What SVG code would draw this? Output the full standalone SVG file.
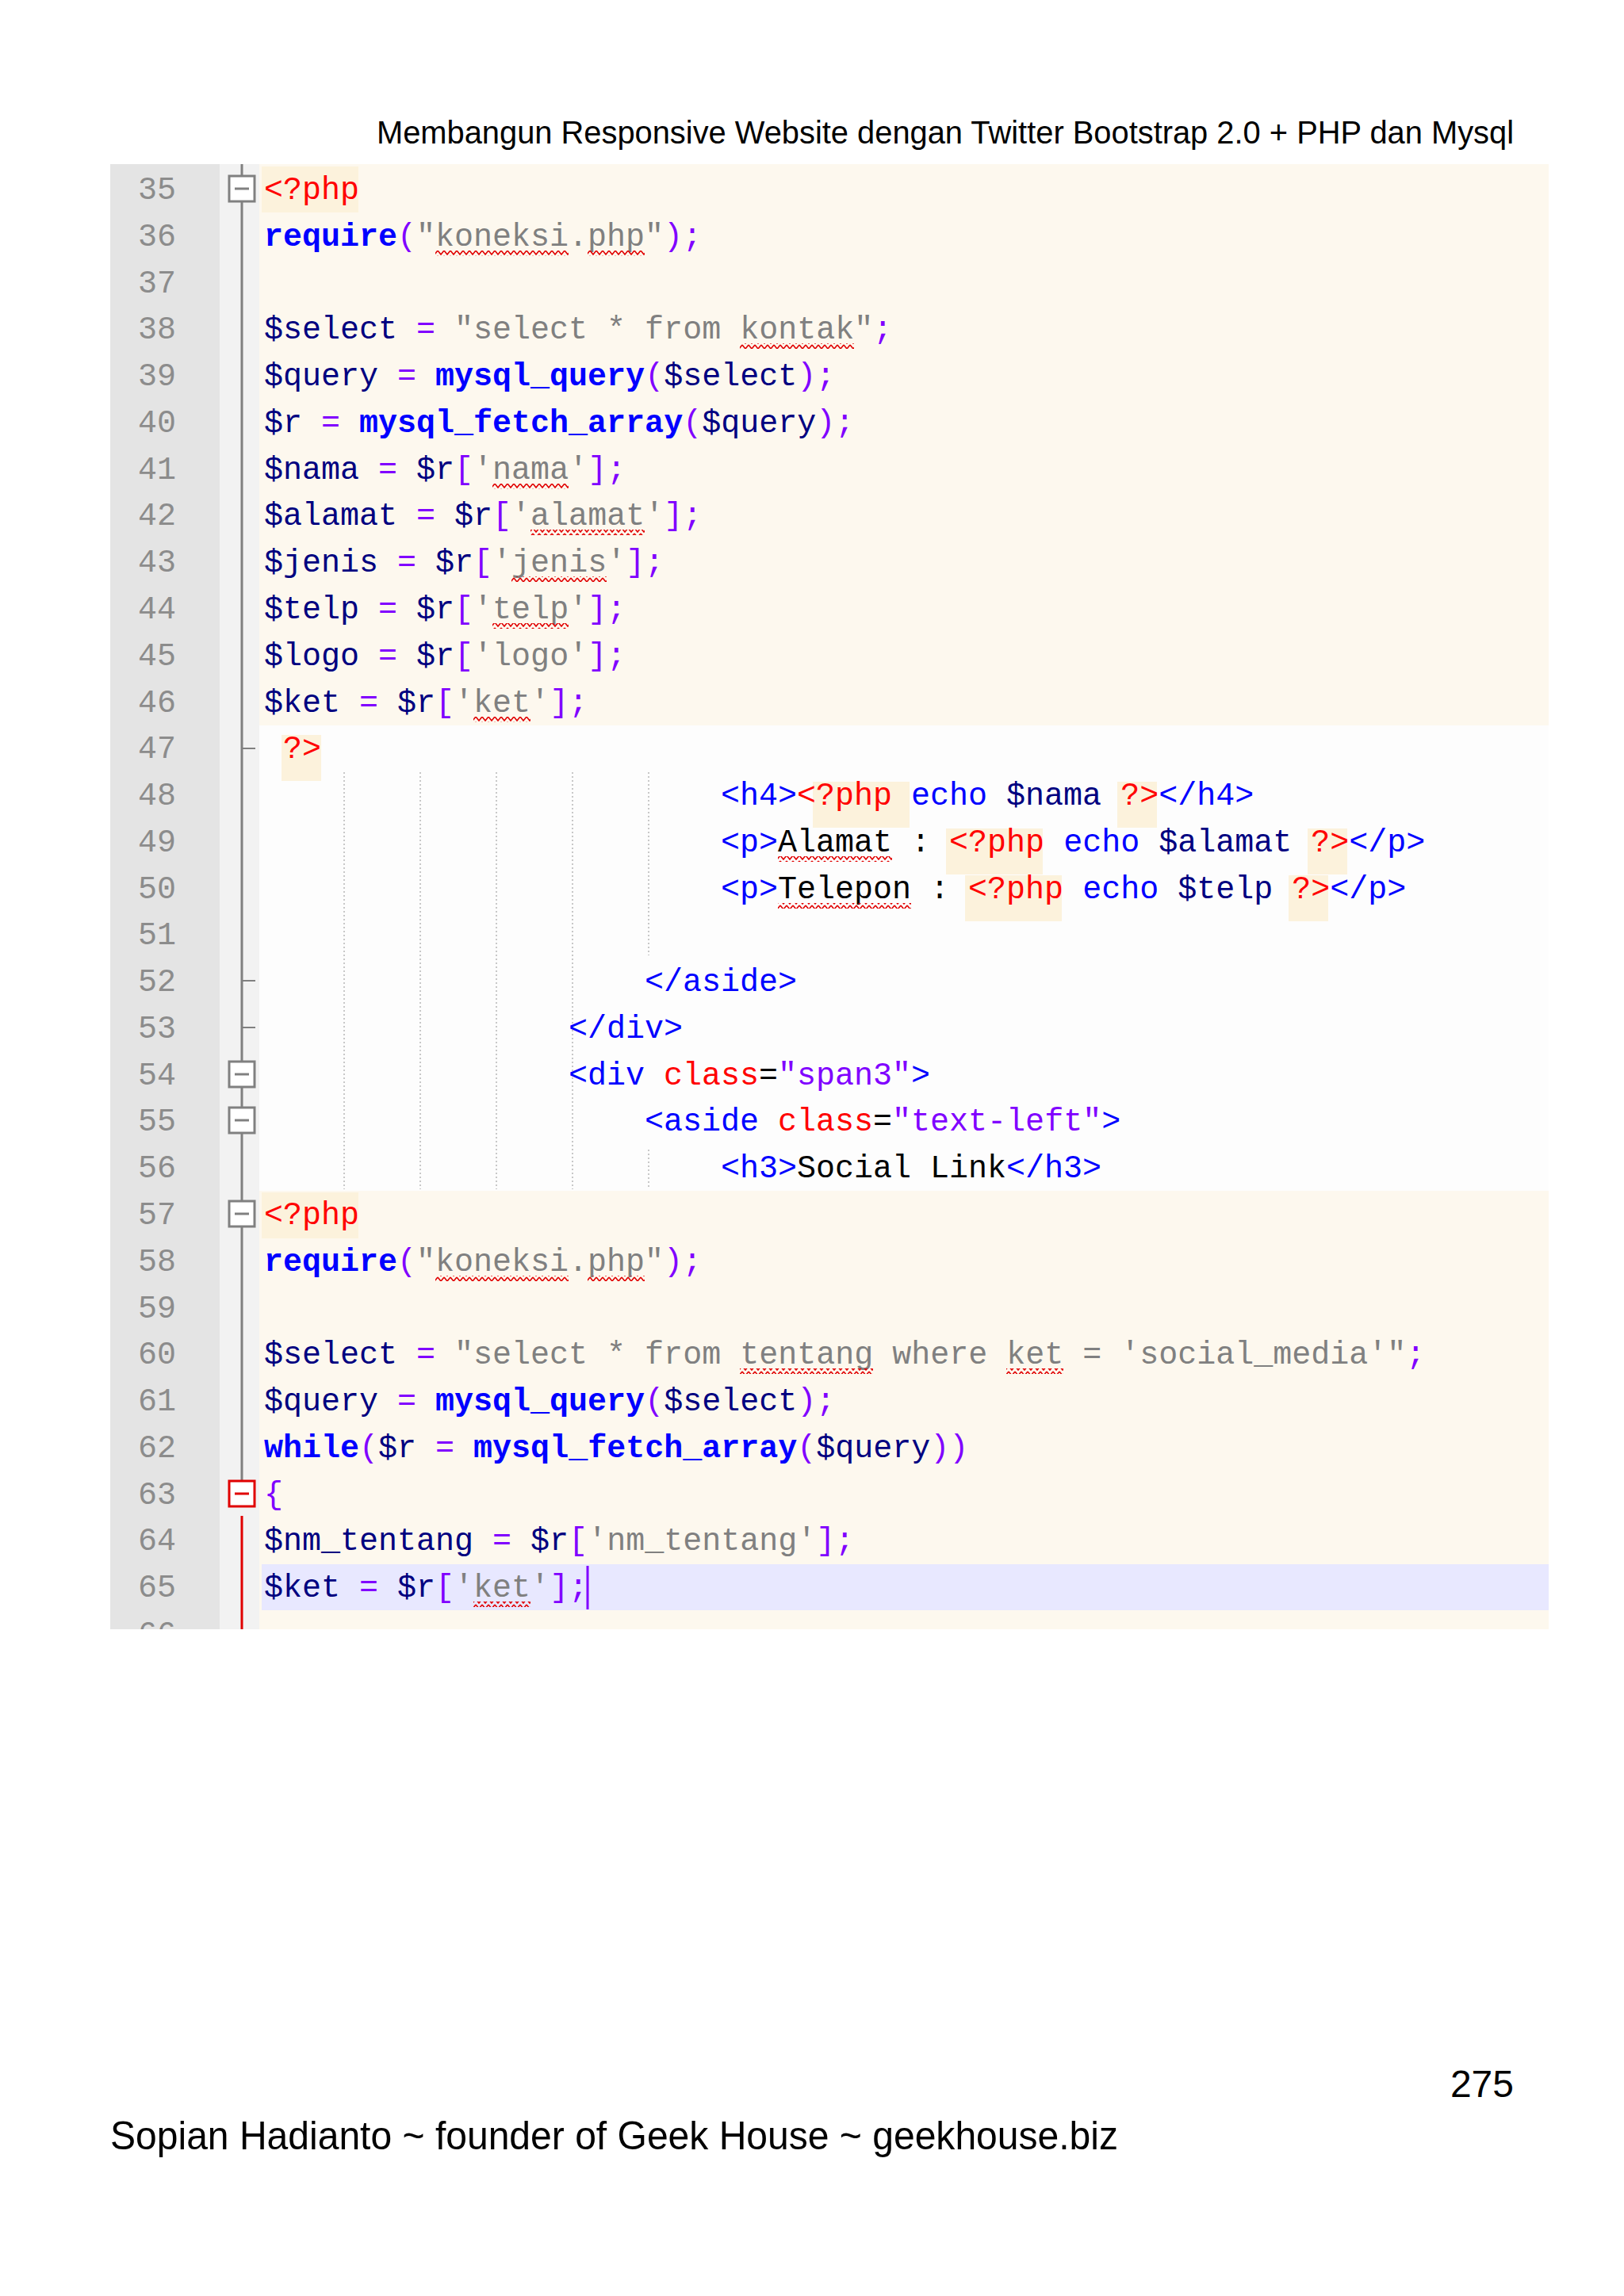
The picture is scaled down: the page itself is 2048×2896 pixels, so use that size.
<svg xmlns="http://www.w3.org/2000/svg" width="2048" height="2896" viewBox="0 0 2048 2896">
<style>
.code{font-family:"Liberation Mono","DejaVu Sans Mono",monospace;font-size:40px;white-space:pre}
.ln{font-family:"Liberation Mono","DejaVu Sans Mono",monospace;font-size:40px;fill:#8c8c8c;text-anchor:end}
.t{fill:#ff0000}.k{fill:#0000ff;font-weight:bold}.v{fill:#000080}.o{fill:#8000ff}.s{fill:#808080}
.h{fill:#0000ff}.a{fill:#ff0000}.av{fill:#8000ff}.b{fill:#000000}
.fold{fill:#ffffff;stroke:#808080;stroke-width:3}
.guide{stroke:#c8c8c8;stroke-width:2;stroke-dasharray:2 3}
.sq{fill:url(#zig)}
.page{font-family:"Liberation Sans","Open Sans",sans-serif;fill:#000}
</style>
<defs>
<pattern id="zig" width="8" height="7" patternUnits="userSpaceOnUse">
<path d="M0,1 L4,6 L8,1" fill="none" stroke="#e00000" stroke-width="1.6"/>
</pattern>
<clipPath id="panel"><rect x="139" y="207" width="1814" height="1848"/></clipPath>
</defs>
<rect width="2048" height="2896" fill="#ffffff"/>
<text class="page" x="1909" y="181" font-size="40" text-anchor="end" textLength="1434" lengthAdjust="spacingAndGlyphs">Membangun Responsive Website dengan Twitter Bootstrap 2.0 + PHP dan Mysql</text>

<g id="editor" clip-path="url(#panel)">
<rect x="139" y="207" width="1814" height="1848" fill="#fdfdfd"/>
<rect x="139" y="207" width="138" height="1848" fill="#e4e4e4"/>
<rect x="277" y="207" width="50" height="1848" fill="#f2f2f2"/>
<rect x="327" y="207" width="1626" height="708" fill="#fdf8ee"/>
<rect x="327" y="1502" width="1626" height="553" fill="#fdf8ee"/>
<rect x="330" y="1973" width="1623" height="58" fill="#e8e8ff"/>
<rect x="330" y="210" width="122" height="58" fill="#fcf2dc"/>
<rect x="355" y="927" width="50" height="58" fill="#fcf2dc"/>
<rect x="330" y="1504" width="122" height="58" fill="#fcf2dc"/>
<rect x="1025" y="986" width="122" height="58" fill="#fcf2dc"/>
<rect x="1409" y="986" width="50" height="58" fill="#fcf2dc"/>
<rect x="1193" y="1045" width="122" height="58" fill="#fcf2dc"/>
<rect x="1649" y="1045" width="50" height="58" fill="#fcf2dc"/>
<rect x="1217" y="1104" width="122" height="58" fill="#fcf2dc"/>
<rect x="1625" y="1104" width="50" height="58" fill="#fcf2dc"/>
</g>

<g id="line-numbers">
<text class="ln" x="222" y="251">35</text><text class="ln" x="222" y="310">36</text><text class="ln" x="222" y="369">37</text><text class="ln" x="222" y="427">38</text><text class="ln" x="222" y="486">39</text><text class="ln" x="222" y="545">40</text><text class="ln" x="222" y="604">41</text><text class="ln" x="222" y="662">42</text><text class="ln" x="222" y="721">43</text><text class="ln" x="222" y="780">44</text><text class="ln" x="222" y="839">45</text><text class="ln" x="222" y="898">46</text><text class="ln" x="222" y="956">47</text><text class="ln" x="222" y="1015">48</text><text class="ln" x="222" y="1074">49</text><text class="ln" x="222" y="1133">50</text><text class="ln" x="222" y="1191">51</text><text class="ln" x="222" y="1250">52</text><text class="ln" x="222" y="1309">53</text><text class="ln" x="222" y="1368">54</text><text class="ln" x="222" y="1426">55</text><text class="ln" x="222" y="1485">56</text><text class="ln" x="222" y="1544">57</text><text class="ln" x="222" y="1603">58</text><text class="ln" x="222" y="1662">59</text><text class="ln" x="222" y="1720">60</text><text class="ln" x="222" y="1779">61</text><text class="ln" x="222" y="1838">62</text><text class="ln" x="222" y="1897">63</text><text class="ln" x="222" y="1955">64</text><text class="ln" x="222" y="2014">65</text>
<g clip-path="url(#panel)"><text class="ln" x="222" y="2073">66</text></g>
</g>

<g id="folding">
<line x1="305" y1="207" x2="305" y2="1882" stroke="#808080" stroke-width="3"/>
<line x1="305" y1="1912" x2="305" y2="2055" stroke="#e00000" stroke-width="3"/>
<line x1="305" y1="944" x2="322" y2="944" stroke="#808080" stroke-width="2"/>
<line x1="305" y1="1237" x2="322" y2="1237" stroke="#808080" stroke-width="2"/>
<line x1="305" y1="1296" x2="322" y2="1296" stroke="#808080" stroke-width="2"/>
<g id="fold35"><rect class="fold" x="289" y="222" width="32" height="32"/><line x1="296" y1="238" x2="314" y2="238" stroke="#808080" stroke-width="3"/></g>
<g id="fold54"><rect class="fold" x="289" y="1339" width="32" height="32"/><line x1="296" y1="1355" x2="314" y2="1355" stroke="#808080" stroke-width="3"/></g>
<g id="fold55"><rect class="fold" x="289" y="1397" width="32" height="32"/><line x1="296" y1="1413" x2="314" y2="1413" stroke="#808080" stroke-width="3"/></g>
<g id="fold57"><rect class="fold" x="289" y="1515" width="32" height="32"/><line x1="296" y1="1531" x2="314" y2="1531" stroke="#808080" stroke-width="3"/></g>
<g id="fold63"><rect x="289" y="1868" width="32" height="32" fill="#fff" stroke="#e00000" stroke-width="3"/><line x1="296" y1="1884" x2="314" y2="1884" stroke="#e00000" stroke-width="3"/></g>
</g>

<g id="guides">
<line class="guide" x1="434" y1="974" x2="434" y2="1500"/>
<line class="guide" x1="530" y1="974" x2="530" y2="1500"/>
<line class="guide" x1="626" y1="974" x2="626" y2="1500"/>
<line class="guide" x1="722" y1="974" x2="722" y2="1500"/>
<line class="guide" x1="818" y1="974" x2="818" y2="1205"/>
<line class="guide" x1="818" y1="1450" x2="818" y2="1500"/>
</g>

<g id="code">
<text class="code" x="333" y="251" xml:space="preserve"><tspan class="t">&lt;?php</tspan></text>
<text class="code" x="333" y="310" xml:space="preserve"><tspan class="k">require</tspan><tspan class="o">(</tspan><tspan class="s">"koneksi.php"</tspan><tspan class="o">);</tspan></text>
<text class="code" x="333" y="427" xml:space="preserve"><tspan class="v">$select</tspan> <tspan class="o">=</tspan> <tspan class="s">"select * from kontak"</tspan><tspan class="o">;</tspan></text>
<text class="code" x="333" y="486" xml:space="preserve"><tspan class="v">$query</tspan> <tspan class="o">=</tspan> <tspan class="k">mysql_query</tspan><tspan class="o">(</tspan><tspan class="v">$select</tspan><tspan class="o">);</tspan></text>
<text class="code" x="333" y="545" xml:space="preserve"><tspan class="v">$r</tspan> <tspan class="o">=</tspan> <tspan class="k">mysql_fetch_array</tspan><tspan class="o">(</tspan><tspan class="v">$query</tspan><tspan class="o">);</tspan></text>
<text class="code" x="333" y="604" xml:space="preserve"><tspan class="v">$nama</tspan> <tspan class="o">=</tspan> <tspan class="v">$r</tspan><tspan class="o">[</tspan><tspan class="s">'nama'</tspan><tspan class="o">];</tspan></text>
<text class="code" x="333" y="662" xml:space="preserve"><tspan class="v">$alamat</tspan> <tspan class="o">=</tspan> <tspan class="v">$r</tspan><tspan class="o">[</tspan><tspan class="s">'alamat'</tspan><tspan class="o">];</tspan></text>
<text class="code" x="333" y="721" xml:space="preserve"><tspan class="v">$jenis</tspan> <tspan class="o">=</tspan> <tspan class="v">$r</tspan><tspan class="o">[</tspan><tspan class="s">'jenis'</tspan><tspan class="o">];</tspan></text>
<text class="code" x="333" y="780" xml:space="preserve"><tspan class="v">$telp</tspan> <tspan class="o">=</tspan> <tspan class="v">$r</tspan><tspan class="o">[</tspan><tspan class="s">'telp'</tspan><tspan class="o">];</tspan></text>
<text class="code" x="333" y="839" xml:space="preserve"><tspan class="v">$logo</tspan> <tspan class="o">=</tspan> <tspan class="v">$r</tspan><tspan class="o">[</tspan><tspan class="s">'logo'</tspan><tspan class="o">];</tspan></text>
<text class="code" x="333" y="898" xml:space="preserve"><tspan class="v">$ket</tspan> <tspan class="o">=</tspan> <tspan class="v">$r</tspan><tspan class="o">[</tspan><tspan class="s">'ket'</tspan><tspan class="o">];</tspan></text>
<text class="code" x="357" y="956" xml:space="preserve"><tspan class="t">?&gt;</tspan></text>
<text class="code" x="909" y="1015" xml:space="preserve"><tspan class="h">&lt;h4&gt;</tspan><tspan class="t">&lt;?php</tspan> <tspan class="h">echo</tspan> <tspan class="v">$nama</tspan> <tspan class="t">?&gt;</tspan><tspan class="h">&lt;/h4&gt;</tspan></text>
<text class="code" x="909" y="1074" xml:space="preserve"><tspan class="h">&lt;p&gt;</tspan><tspan class="b">Alamat</tspan> <tspan class="b">:</tspan> <tspan class="t">&lt;?php</tspan> <tspan class="h">echo</tspan> <tspan class="v">$alamat</tspan> <tspan class="t">?&gt;</tspan><tspan class="h">&lt;/p&gt;</tspan></text>
<text class="code" x="909" y="1133" xml:space="preserve"><tspan class="h">&lt;p&gt;</tspan><tspan class="b">Telepon</tspan> <tspan class="b">:</tspan> <tspan class="t">&lt;?php</tspan> <tspan class="h">echo</tspan> <tspan class="v">$telp</tspan> <tspan class="t">?&gt;</tspan><tspan class="h">&lt;/p&gt;</tspan></text>
<text class="code" x="813" y="1250" xml:space="preserve"><tspan class="h">&lt;/aside&gt;</tspan></text>
<text class="code" x="717" y="1309" xml:space="preserve"><tspan class="h">&lt;/div&gt;</tspan></text>
<text class="code" x="717" y="1368" xml:space="preserve"><tspan class="h">&lt;div</tspan> <tspan class="a">class</tspan><tspan class="b">=</tspan><tspan class="av">"span3"</tspan><tspan class="h">&gt;</tspan></text>
<text class="code" x="813" y="1426" xml:space="preserve"><tspan class="h">&lt;aside</tspan> <tspan class="a">class</tspan><tspan class="b">=</tspan><tspan class="av">"text-left"</tspan><tspan class="h">&gt;</tspan></text>
<text class="code" x="909" y="1485" xml:space="preserve"><tspan class="h">&lt;h3&gt;</tspan><tspan class="b">Social Link</tspan><tspan class="h">&lt;/h3&gt;</tspan></text>
<text class="code" x="333" y="1544" xml:space="preserve"><tspan class="t">&lt;?php</tspan></text>
<text class="code" x="333" y="1603" xml:space="preserve"><tspan class="k">require</tspan><tspan class="o">(</tspan><tspan class="s">"koneksi.php"</tspan><tspan class="o">);</tspan></text>
<text class="code" x="333" y="1720" xml:space="preserve"><tspan class="v">$select</tspan> <tspan class="o">=</tspan> <tspan class="s">"select * from tentang where ket = 'social_media'"</tspan><tspan class="o">;</tspan></text>
<text class="code" x="333" y="1779" xml:space="preserve"><tspan class="v">$query</tspan> <tspan class="o">=</tspan> <tspan class="k">mysql_query</tspan><tspan class="o">(</tspan><tspan class="v">$select</tspan><tspan class="o">);</tspan></text>
<text class="code" x="333" y="1838" xml:space="preserve"><tspan class="k">while</tspan><tspan class="o">(</tspan><tspan class="v">$r</tspan> <tspan class="o">=</tspan> <tspan class="k">mysql_fetch_array</tspan><tspan class="o">(</tspan><tspan class="v">$query</tspan><tspan class="o">))</tspan></text>
<text class="code" x="333" y="1897" xml:space="preserve"><tspan class="o">{</tspan></text>
<text class="code" x="333" y="1955" xml:space="preserve"><tspan class="v">$nm_tentang</tspan> <tspan class="o">=</tspan> <tspan class="v">$r</tspan><tspan class="o">[</tspan><tspan class="s">'nm_tentang'</tspan><tspan class="o">];</tspan></text>
<text class="code" x="333" y="2014" xml:space="preserve"><tspan class="v">$ket</tspan> <tspan class="o">=</tspan> <tspan class="v">$r</tspan><tspan class="o">[</tspan><tspan class="s">'ket'</tspan><tspan class="o">];</tspan></text>
<line x1="741" y1="1975" x2="741" y2="2030" stroke="#8000ff" stroke-width="3"/>
</g>

<g id="squiggles">
<rect class="sq" x="549" y="316" width="168" height="7"/><rect class="sq" x="741" y="316" width="72" height="7"/>
<rect class="sq" x="933" y="433" width="144" height="7"/>
<rect class="sq" x="621" y="610" width="96" height="7"/>
<rect class="sq" x="669" y="668" width="144" height="7"/>
<rect class="sq" x="645" y="727" width="120" height="7"/>
<rect class="sq" x="621" y="786" width="96" height="7"/>
<rect class="sq" x="597" y="904" width="72" height="7"/>
<rect class="sq" x="981" y="1080" width="144" height="7"/>
<rect class="sq" x="981" y="1139" width="168" height="7"/>
<rect class="sq" x="549" y="1609" width="168" height="7"/><rect class="sq" x="741" y="1609" width="72" height="7"/>
<rect class="sq" x="933" y="1726" width="168" height="7"/><rect class="sq" x="1269" y="1726" width="72" height="7"/>
<rect class="sq" x="597" y="2020" width="72" height="7"/>
</g>

<text class="page" x="1909" y="2645" font-size="48" text-anchor="end">275</text>
<text class="page" x="139" y="2711" font-size="50" textLength="1271" lengthAdjust="spacingAndGlyphs">Sopian Hadianto ~ founder of Geek House ~ geekhouse.biz</text>
</svg>
